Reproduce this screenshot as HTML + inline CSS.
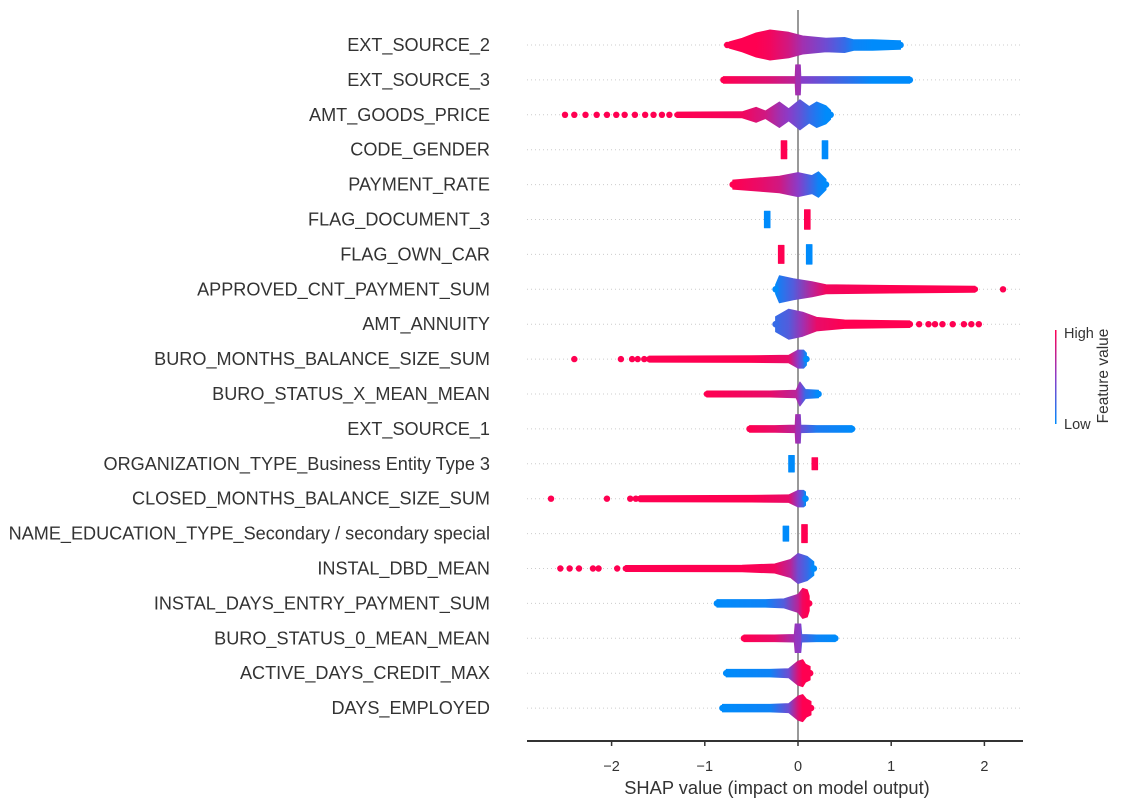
<!DOCTYPE html>
<html><head><meta charset="utf-8"><style>
html,body{margin:0;padding:0;background:#fff;}
svg{display:block;font-family:"Liberation Sans",Arial,sans-serif;}
</style></head><body>
<svg id="chart" width="1121" height="807" viewBox="0 0 1121 807">
<defs>
<linearGradient id="cbar" x1="0" y1="1" x2="0" y2="0"><stop offset="0" stop-color="#008bfb"/><stop offset="0.5" stop-color="#8a3cc8"/><stop offset="1" stop-color="#ff0051"/></linearGradient>
</defs>
<g id="grid"></g>
<line x1="798" y1="10" x2="798" y2="741" stroke="#999" stroke-width="2"/>
<g id="marks"></g>
<g id="labels"></g>
<line x1="527" y1="741" x2="1023" y2="741" stroke="#333" stroke-width="2"/>
<g id="xticks"></g>
<text x="777" y="794" font-size="18.3" text-anchor="middle" fill="#333">SHAP value (impact on model output)</text>
<g>
<rect x="1055" y="330" width="1.5" height="94" fill="url(#cbar)"/>
<text x="1064" y="338" font-size="14.5" fill="#333">High</text>
<text x="1064" y="429" font-size="14.5" fill="#333">Low</text>
<text transform="translate(1108,376) rotate(-90)" font-size="15.5" text-anchor="middle" fill="#333">Feature value</text>
</g>
</svg>
<script>
const features = ["EXT_SOURCE_2","EXT_SOURCE_3","AMT_GOODS_PRICE","CODE_GENDER","PAYMENT_RATE","FLAG_DOCUMENT_3","FLAG_OWN_CAR","APPROVED_CNT_PAYMENT_SUM","AMT_ANNUITY","BURO_MONTHS_BALANCE_SIZE_SUM","BURO_STATUS_X_MEAN_MEAN","EXT_SOURCE_1","ORGANIZATION_TYPE_Business Entity Type 3","CLOSED_MONTHS_BALANCE_SIZE_SUM","NAME_EDUCATION_TYPE_Secondary / secondary special","INSTAL_DBD_MEAN","INSTAL_DAYS_ENTRY_PAYMENT_SUM","BURO_STATUS_0_MEAN_MEAN","ACTIVE_DAYS_CREDIT_MAX","DAYS_EMPLOYED"];
const xTicks = [-2,-1,0,1,2];
const xTickLabels = ["\u22122","\u22121","0","1","2"];
// segments per feature: [shap value, density (0..1), feature value (0 low .. 1 high)]
const segments = [
 [[[-0.74,0.2,1],[-0.6,0.45,1],[-0.45,0.8,1],[-0.3,1,0.95],[-0.1,0.85,0.8],[0.05,0.6,0.6],[0.3,0.45,0.4],[0.5,0.5,0.2],[0.6,0.35,0.05],[0.8,0.35,0],[1.1,0.28,0]]],
 [[[-0.8,0.22,1],[-0.3,0.22,0.85],[-0.03,0.22,0.7],[-0.025,1,0.6],[0.025,1,0.6],[0.03,0.22,0.5],[0.5,0.22,0.2],[0.8,0.22,0],[1.2,0.22,0]]],
 [[[-1.3,0.18,1],[-0.6,0.2,0.95],[-0.45,0.5,0.85],[-0.35,0.25,0.8],[-0.2,0.85,0.6],[-0.1,0.4,0.5],[0.02,1,0.35],[0.12,0.55,0.2],[0.2,0.85,0.1],[0.3,0.6,0],[0.35,0.3,0]]],
 [[[-0.18,0.6,1],[-0.12,0.6,1]],[[0.26,0.6,0],[0.32,0.6,0]]],
 [[[-0.7,0.3,1],[-0.4,0.45,0.9],[-0.2,0.55,0.8],[0,0.8,0.5],[0.15,0.6,0.2],[0.22,0.85,0.05],[0.3,0.35,0]]],
 [[[-0.36,0.55,0],[-0.3,0.55,0]],[[0.07,0.65,1],[0.13,0.65,1]]],
 [[[-0.21,0.6,1],[-0.15,0.6,1]],[[0.09,0.65,0],[0.15,0.65,0]]],
 [[[-0.24,0.3,0],[-0.2,0.9,0.1],[-0.05,0.7,0.3],[0.15,0.5,0.7],[0.3,0.3,0.95],[1.0,0.25,1],[1.9,0.2,1]]],
 [[[-0.24,0.5,0.2],[-0.1,1,0.3],[0.05,0.8,0.6],[0.2,0.45,0.9],[0.5,0.28,1],[1.2,0.22,1]]],
 [[[-1.6,0.2,1],[-0.5,0.22,1],[-0.1,0.25,0.9],[0.0,0.6,0.5],[0.06,0.6,0.2],[0.09,0.4,0]]],
 [[[-0.98,0.2,1],[-0.3,0.2,0.9],[-0.02,0.25,0.7],[0.02,0.8,0.5],[0.08,0.3,0.2],[0.22,0.25,0]]],
 [[[-0.52,0.22,1],[-0.25,0.22,0.9],[-0.03,0.25,0.7],[-0.025,0.95,0.6],[0.025,0.95,0.55],[0.03,0.25,0.4],[0.2,0.22,0.1],[0.58,0.22,0]]],
 [[[-0.1,0.55,0],[-0.04,0.55,0]],[[0.15,0.4,1],[0.21,0.4,1]]],
 [[[-1.7,0.2,1],[-0.5,0.22,1],[-0.1,0.25,0.9],[0.0,0.55,0.5],[0.06,0.55,0.2],[0.08,0.45,0]]],
 [[[-0.16,0.5,0],[-0.1,0.5,0]],[[0.04,0.6,1],[0.1,0.6,1]]],
 [[[-1.85,0.2,1],[-0.6,0.22,1],[-0.25,0.3,0.95],[-0.08,0.6,0.7],[0.0,1,0.4],[0.1,0.8,0.2],[0.17,0.45,0]]],
 [[[-0.87,0.25,0],[-0.35,0.25,0.05],[-0.15,0.3,0.3],[0.0,0.6,0.7],[0.05,1,0.95],[0.1,0.9,1],[0.12,0.5,1]]],
 [[[-0.58,0.22,1],[-0.25,0.22,0.9],[-0.04,0.25,0.6],[-0.03,0.95,0.55],[0.03,0.95,0.5],[0.04,0.25,0.3],[0.2,0.22,0.05],[0.4,0.22,0]]],
 [[[-0.77,0.25,0],[-0.3,0.25,0.05],[-0.1,0.3,0.4],[0.0,0.8,0.85],[0.05,0.9,1],[0.08,0.6,1],[0.13,0.45,1]]],
 [[[-0.81,0.25,0],[-0.3,0.25,0.05],[-0.1,0.3,0.4],[0.0,0.8,0.85],[0.05,0.9,1],[0.09,0.6,1],[0.14,0.45,1]]]
];
// isolated outlier points: [feature index, shap value, feature value]
const outliers = [
 [0,-0.76,1],
 [2,-2.5,1],[2,-2.4,1],[2,-2.28,1],[2,-2.16,1],[2,-2.05,1],[2,-1.95,1],[2,-1.86,1],[2,-1.75,1],[2,-1.64,1],[2,-1.55,1],[2,-1.46,1],[2,-1.38,1],
 [7,2.2,1],
 [8,1.3,1],[8,1.4,1],[8,1.47,1],[8,1.55,1],[8,1.66,1],[8,1.78,1],[8,1.86,1],[8,1.94,1],
 [9,-2.4,1],[9,-1.9,1],[9,-1.78,1],[9,-1.72,1],[9,-1.65,1],
 [13,-2.65,1],[13,-2.05,1],[13,-1.8,1],[13,-1.74,1],
 [15,-2.55,1],[15,-2.45,1],[15,-2.35,1],[15,-2.2,1],[15,-2.14,1],[15,-1.94,1]
];
const X0=798, PXU=93.2, Y0=45, DY=34.9, HMAX=15;
const xs = v => X0 + v*PXU;
const ys = i => Y0 + i*DY;
function col(t){
  const b=[0,139,251], m=[138,60,200], r=[255,0,81];
  let a,c,u; if(t<0.5){a=b;c=m;u=t*2}else{a=m;c=r;u=(t-0.5)*2}
  return `rgb(${a.map((x,k)=>Math.round(x+(c[k]-x)*u)).join(',')})`;
}
const NS="http://www.w3.org/2000/svg";
const svg=document.getElementById('chart'), defs=svg.querySelector('defs');
const grid=document.getElementById('grid'), marks=document.getElementById('marks'), labels=document.getElementById('labels'), xt=document.getElementById('xticks');
features.forEach((f,i)=>{
  const y=ys(i);
  const g=document.createElementNS(NS,'line');
  
  
  g.setAttribute('x1',527);g.setAttribute('x2',1023);g.setAttribute('y1',y);g.setAttribute('y2',y);
  g.setAttribute('stroke','#ccc');g.setAttribute('stroke-width','1');g.setAttribute('stroke-dasharray','1 3');
  grid.appendChild(g);
  const t=document.createElementNS(NS,'text');
  
  
  t.setAttribute('x',490);t.setAttribute('y',y+6);t.setAttribute('text-anchor','end');
  t.setAttribute('font-size','18.1');t.setAttribute('fill','#333');t.textContent=f;
  labels.appendChild(t);
  segments[i].forEach((seg,s)=>{
    const id='gr'+i+'_'+s;
    const lg=document.createElementNS(NS,'linearGradient');
    lg.setAttribute('id',id);lg.setAttribute('gradientUnits','userSpaceOnUse');
    const xa=xs(seg[0][0]), xb=xs(seg[seg.length-1][0]);
    lg.setAttribute('x1',xa);lg.setAttribute('x2',xb===xa?xa+1:xb);lg.setAttribute('y1',0);lg.setAttribute('y2',0);
    seg.forEach(p=>{const st=document.createElementNS(NS,'stop');st.setAttribute('offset',xb===xa?0:(xs(p[0])-xa)/(xb-xa));st.setAttribute('stop-color',col(p[2]));lg.appendChild(st);});
    defs.appendChild(lg);
    const top=seg.map(p=>`${xs(p[0]).toFixed(1)},${(y-p[1]*HMAX).toFixed(1)}`);
    const bot=seg.slice().reverse().map(p=>`${xs(p[0]).toFixed(1)},${(y+p[1]*HMAX).toFixed(1)}`);
    const pg=document.createElementNS(NS,'polygon');
    
    
    pg.setAttribute('points',top.concat(bot).join(' '));
    pg.setAttribute('fill','url(#'+id+')');
    pg.setAttribute('stroke','url(#'+id+')');pg.setAttribute('stroke-width','1');pg.setAttribute('stroke-linejoin','round');
    marks.appendChild(pg);
    if(seg.length>2){
      [seg[0],seg[seg.length-1]].forEach(p=>{
        const c=document.createElementNS(NS,'circle');
        
        
        c.setAttribute('cx',xs(p[0]));c.setAttribute('cy',y);c.setAttribute('r',Math.min(3.3,p[1]*HMAX));c.setAttribute('fill',col(p[2]));
        marks.appendChild(c);
      });
    }
  });
});
outliers.forEach(o=>{
  const c=document.createElementNS(NS,'circle');
  
  
  c.setAttribute('cx',xs(o[1]));c.setAttribute('cy',ys(o[0]));c.setAttribute('r',3.2);c.setAttribute('fill',col(o[2]));
  marks.appendChild(c);
});
xTicks.forEach((v,k)=>{
  const l=document.createElementNS(NS,'line');
  
  
  l.setAttribute('x1',xs(v));l.setAttribute('x2',xs(v));l.setAttribute('y1',741);l.setAttribute('y2',746);l.setAttribute('stroke','#333');l.setAttribute('stroke-width','1.5');
  xt.appendChild(l);
  const t=document.createElementNS(NS,'text');
  
  
  t.setAttribute('x',xs(v));t.setAttribute('y',771);t.setAttribute('text-anchor','middle');t.setAttribute('font-size','14.5');t.setAttribute('fill','#333');
  t.textContent=xTickLabels[k];
  xt.appendChild(t);
});
</script>
</body></html>
